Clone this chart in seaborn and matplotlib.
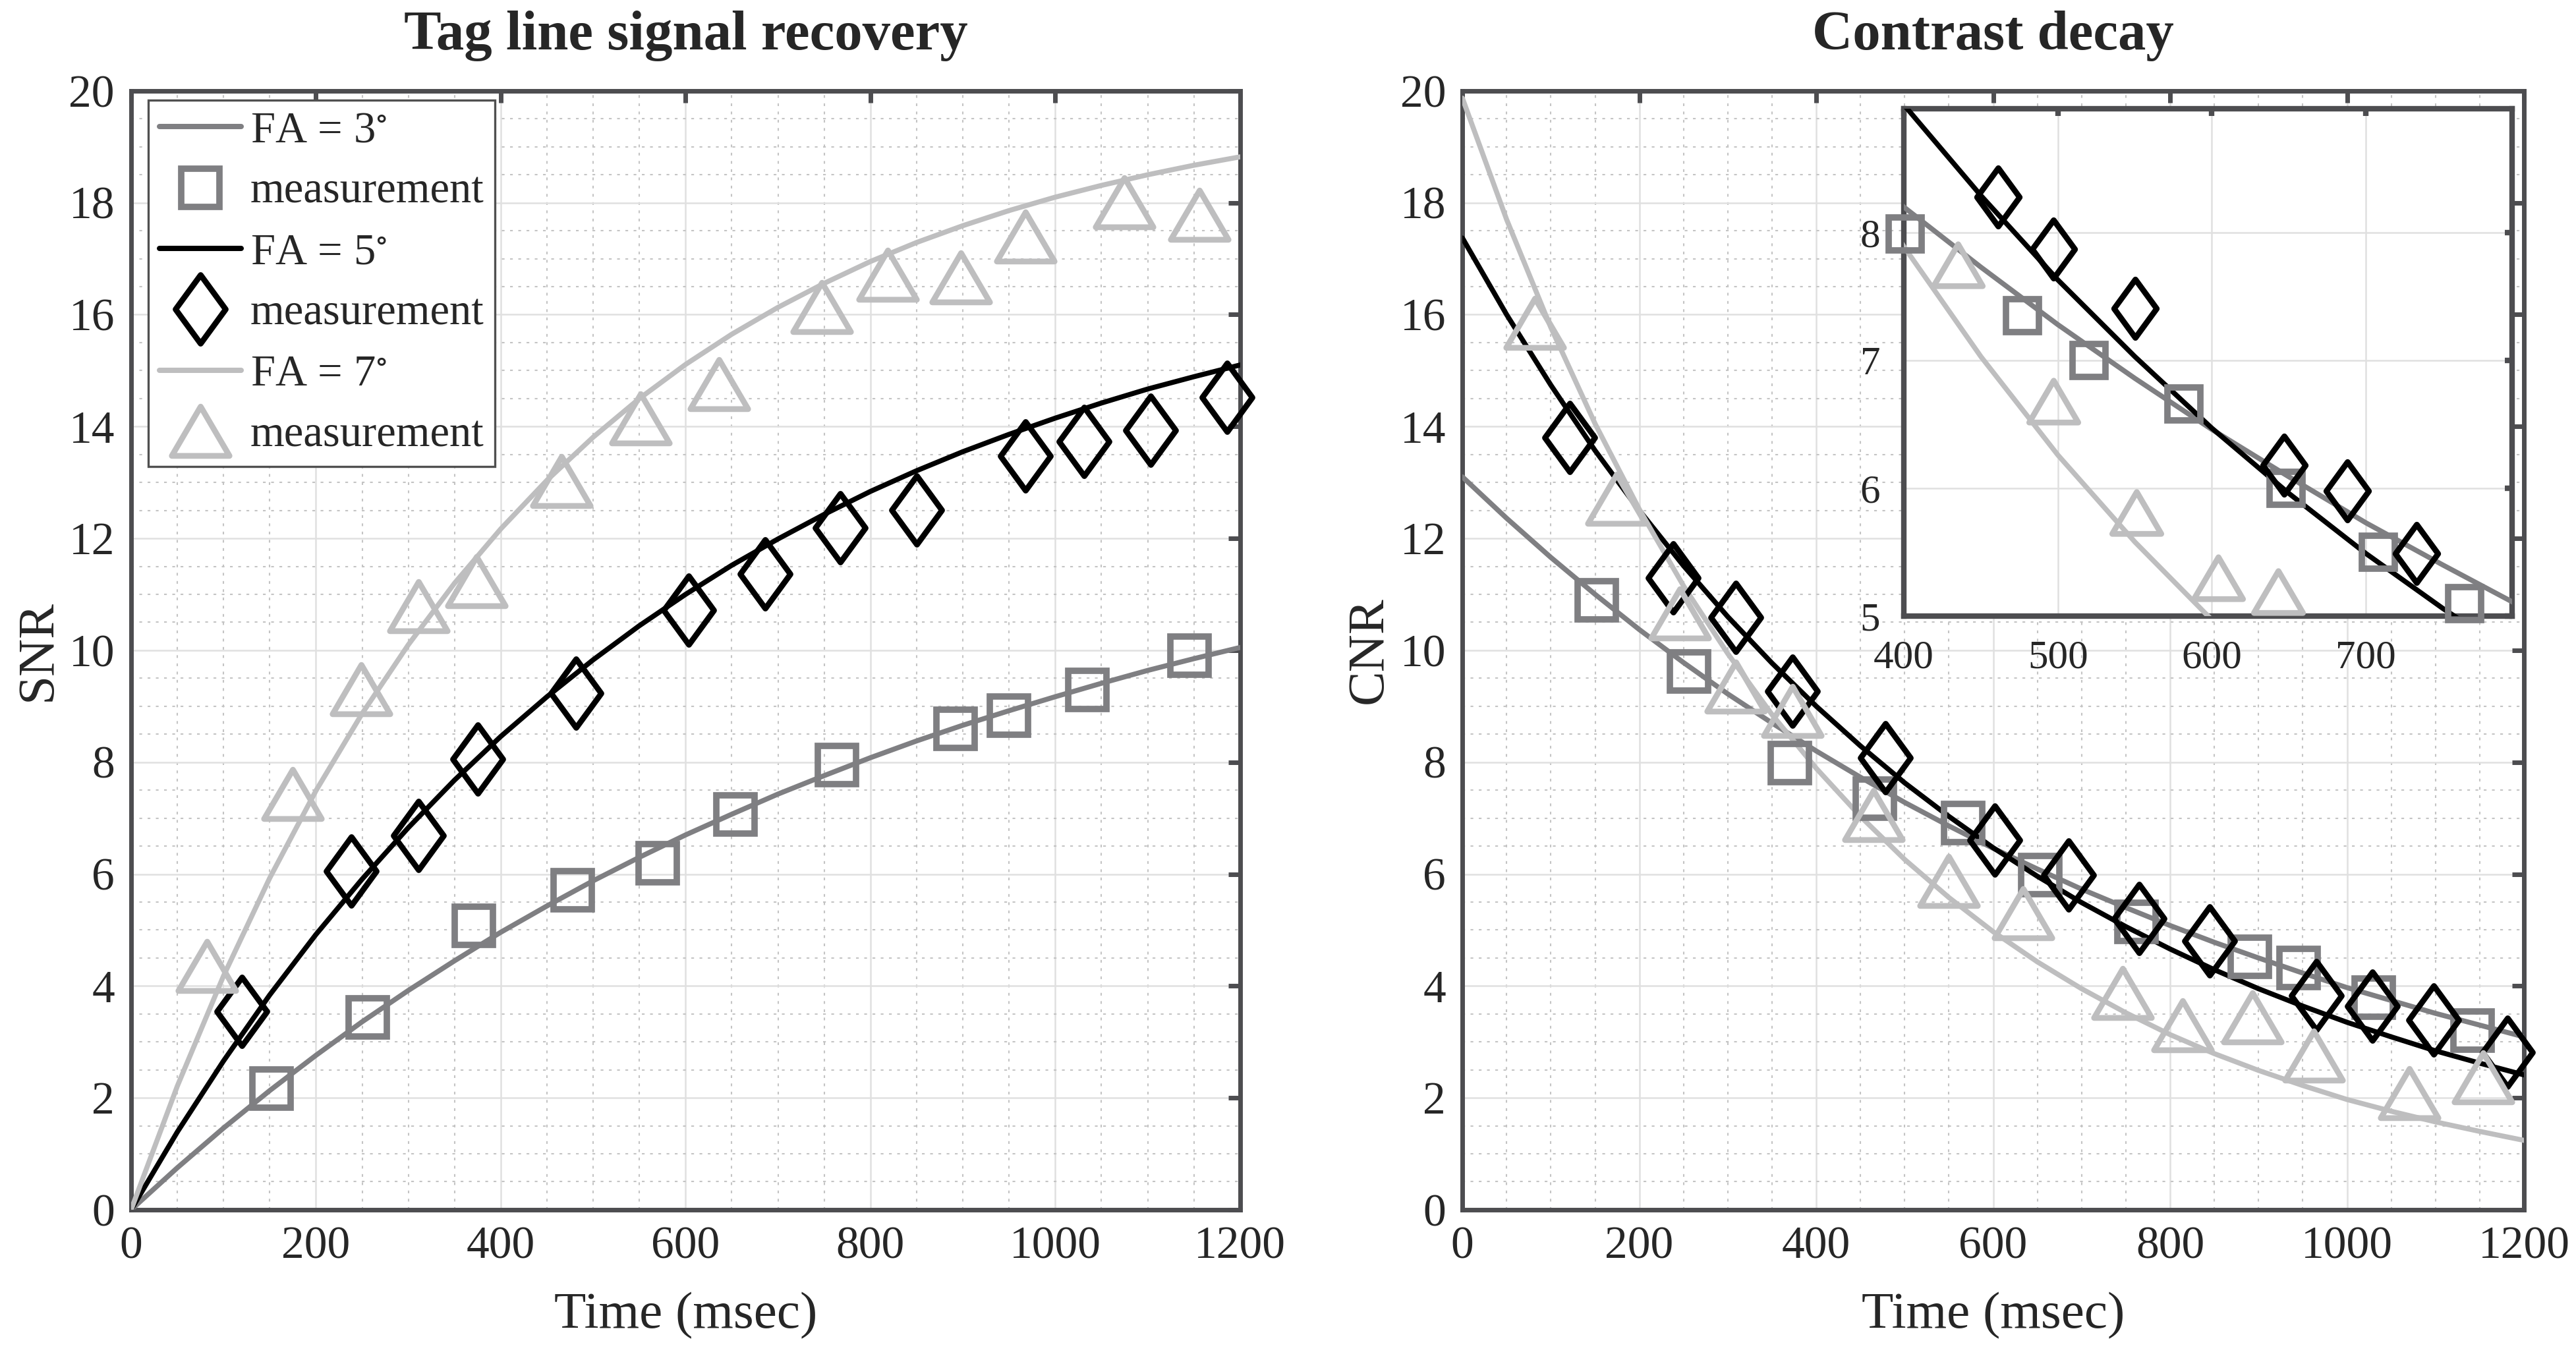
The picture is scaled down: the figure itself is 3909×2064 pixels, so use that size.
import matplotlib
matplotlib.use("Agg")
import matplotlib.pyplot as plt
import seaborn as sns
from matplotlib.lines import Line2D
from matplotlib.path import Path
from matplotlib.ticker import MultipleLocator

# ---- fitted curves (every 50 ms) ----
t_fit = [0, 50, 100, 150, 200, 250, 300, 350, 400, 450, 500, 550, 600,
         650, 700, 750, 800, 850, 900, 950, 1000, 1050, 1100, 1150, 1200]

snr_fit_fa3 = [0, 0.75, 1.46, 2.13, 2.76, 3.36, 3.92, 4.45, 4.96, 5.43, 5.88, 6.30, 6.70,
               7.07, 7.43, 7.76, 8.08, 8.38, 8.66, 8.92, 9.17, 9.41, 9.64, 9.85, 10.05]
snr_fit_fa5 = [0, 1.39, 2.66, 3.84, 4.92, 5.91, 6.83, 7.68, 8.46, 9.17, 9.83, 10.44, 11.00,
               11.52, 11.99, 12.43, 12.84, 13.21, 13.55, 13.86, 14.15, 14.42, 14.67, 14.89, 15.10]
snr_fit_fa7 = [0, 2.21, 4.18, 5.93, 7.49, 8.87, 10.10, 11.20, 12.17, 13.04, 13.81, 14.50, 15.11,
               15.65, 16.13, 16.56, 16.95, 17.29, 17.59, 17.86, 18.10, 18.31, 18.50, 18.67, 18.82]

cnr_fit_fa3 = [13.10, 12.36, 11.66, 11.00, 10.37, 9.78, 9.22, 8.70, 8.20, 7.73, 7.28, 6.86, 6.46,
               6.09, 5.73, 5.40, 5.08, 4.78, 4.50, 4.23, 3.97, 3.74, 3.51, 3.30, 3.09]
cnr_fit_fa5 = [17.37, 16.00, 14.74, 13.57, 12.50, 11.51, 10.60, 9.77, 9.00, 8.29, 7.63, 7.03, 6.47,
               5.96, 5.49, 5.06, 4.66, 4.29, 3.95, 3.64, 3.35, 3.09, 2.84, 2.62, 2.41]
cnr_fit_fa7 = [19.87, 17.70, 15.77, 14.05, 12.52, 11.15, 9.94, 8.85, 7.89, 7.03, 6.26, 5.58, 4.97,
               4.43, 3.95, 3.52, 3.13, 2.79, 2.49, 2.22, 1.97, 1.76, 1.57, 1.40, 1.24]

# ---- measurements, SNR ----
snr_t_fa3 = [152, 256, 371, 478, 570, 654, 764, 892, 950, 1035, 1145]
snr_fa3 = [2.17, 3.44, 5.08, 5.71, 6.19, 7.07, 7.95, 8.60, 8.83, 9.29, 9.91]
snr_t_fa5 = [120, 238, 311, 375, 481, 603, 686, 767, 850, 968, 1031, 1103, 1186]
snr_fa5 = [3.55, 6.05, 6.69, 8.06, 9.23, 10.72, 11.36, 12.19, 12.51, 13.47, 13.73, 13.93, 14.52]
snr_t_fa7 = [82, 175, 249, 311, 374, 466, 551, 636, 747, 819, 898, 968, 1075, 1156]
snr_fa7 = [4.36, 7.43, 9.30, 10.79, 11.24, 13.03, 14.15, 14.76, 16.14, 16.71, 16.66, 17.39, 18.01, 17.79]

# ---- measurements, CNR ----
cnr_t_fa3 = [152, 256, 370, 466, 566, 653, 762, 890, 945, 1030, 1142]
cnr_fa3 = [10.89, 9.62, 7.98, 7.35, 6.91, 5.98, 5.15, 4.52, 4.32, 3.79, 3.20]
cnr_t_fa5 = [121, 238, 309, 373, 478, 602, 685, 765, 845, 965, 1029, 1098, 1181]
cnr_fa5 = [13.80, 11.30, 10.59, 9.27, 8.08, 6.61, 5.98, 5.20, 4.81, 3.83, 3.64, 3.39, 2.81]
cnr_t_fa7 = [82, 174, 246, 309, 373, 465, 550, 634, 746, 814, 893, 962, 1070, 1154]
cnr_fa7 = [15.85, 12.71, 10.66, 9.35, 8.91, 7.05, 5.88, 5.30, 3.88, 3.30, 3.44, 2.76, 2.08, 2.37]

# ---- measurements shown in the inset ----
ins_t_fa3 = [401, 477, 520, 582, 648, 708, 764]
ins_fa3 = [7.99, 7.35, 7.00, 6.66, 6.00, 5.50, 5.10]
ins_t_fa5 = [461, 497, 550, 647, 688, 733]
ins_fa5 = [8.28, 7.87, 7.41, 6.18, 5.98, 5.49]
ins_t_fa7 = [435, 497, 551, 604, 643]
ins_fa7 = [7.75, 6.68, 5.81, 5.30, 5.19]

legend_labels = ["FA = 3$^{\\circ}$", "measurement", "FA = 5$^{\\circ}$", "measurement",
                 "FA = 7$^{\\circ}$", "measurement"]

# ---- style ----
sns.set_style("white")
plt.rcParams["font.family"] = ["Liberation Serif", "DejaVu Serif"]
plt.rcParams["mathtext.fontset"] = "stix"

C3, C5, C7 = "#7f7f82", "#000000", "#bebebf"
SPINE = "#4d4d50"

def closed(verts):
    return Path(verts + [(0, 0)], [Path.MOVETO] + [Path.LINETO] * (len(verts) - 1) + [Path.CLOSEPOLY])

DIAMOND = closed([(0, 0.5), (0.365, 0), (0, -0.5), (-0.365, 0)])
TRIANGLE = closed([(0, 0.427), (0.5, -0.427), (-0.5, -0.427)])

MARK = {"fa3": ("s", 42, 7.0), "fa5": (DIAMOND, 75, 6.3), "fa7": (TRIANGLE, 63, 6.3)}
LW = 5.5


def draw_curve(ax, y, color):
    sns.lineplot(x=t_fit, y=y, ax=ax, color=color, linewidth=LW, legend=False,
                 errorbar=None, sort=False, zorder=3)


def draw_points(ax, x, y, color, key, scale=1.0):
    m, ms, mew = MARK[key]
    sns.lineplot(x=x, y=y, ax=ax, color=color, linestyle="", marker=m,
                 markersize=ms * scale, markerfacecolor="none", markeredgecolor=color,
                 markeredgewidth=mew, legend=False, errorbar=None, sort=False,
                 clip_on=False, zorder=4)


def style_main(ax):
    ax.set_xlim(0, 1200)
    ax.set_ylim(0, 20)
    ax.xaxis.set_major_locator(MultipleLocator(200))
    ax.yaxis.set_major_locator(MultipleLocator(2))
    ax.xaxis.set_minor_locator(MultipleLocator(50))
    ax.yaxis.set_minor_locator(MultipleLocator(0.5))
    ax.set_axisbelow(True)
    ax.grid(which="major", color="#e0e0e0", linewidth=1.8)
    ax.grid(which="minor", color="#c4c4c4", linewidth=1.5, linestyle=(0, (2, 4)))
    ax.tick_params(which="major", direction="in", length=13, width=5, color=SPINE,
                   top=True, right=True, labelsize=50, pad=18)
    ax.tick_params(which="minor", length=0)
    for s in ax.spines.values():
        s.set_visible(True)
        s.set_color(SPINE)
        s.set_linewidth(5)
    ax.set_xlabel("Time (msec)", fontsize=57, labelpad=26)


fig = plt.figure(figsize=(39.09, 20.64), dpi=100)
ax1 = fig.add_axes([0.0509, 0.1105, 0.4305, 0.8227])
ax2 = fig.add_axes([0.5677, 0.1105, 0.4121, 0.8227])

# left panel: SNR
for ys, c in [(snr_fit_fa3, C3), (snr_fit_fa5, C5), (snr_fit_fa7, C7)]:
    draw_curve(ax1, ys, c)
draw_points(ax1, snr_t_fa3, snr_fa3, C3, "fa3")
draw_points(ax1, snr_t_fa5, snr_fa5, C5, "fa5")
draw_points(ax1, snr_t_fa7, snr_fa7, C7, "fa7")
style_main(ax1)
ax1.set_ylabel("SNR", fontsize=57, labelpad=8)
ax1.set_title("Tag line signal recovery", fontsize=61, fontweight="bold", pad=45)

handles = []
for c, key in [(C3, "fa3"), (C5, "fa5"), (C7, "fa7")]:
    m, ms, mew = MARK[key]
    handles.append(Line2D([], [], color=c, linewidth=LW + 0.3))
    handles.append(Line2D([], [], linestyle="none", marker=m, markersize=ms,
                          markerfacecolor="none", markeredgecolor=c, markeredgewidth=mew))
leg = ax1.legend(handles, legend_labels, loc="upper left", bbox_to_anchor=(0.0154, 0.9917),
                 borderaxespad=0, fontsize=48, frameon=True, fancybox=False, framealpha=1,
                 edgecolor="#505050", handlelength=1.87, handletextpad=0.2, labelspacing=0.47,
                 borderpad=0.25, numpoints=1)
leg.get_frame().set_linewidth(2.4)
leg.set_zorder(10)

# right panel: CNR
for ys, c in [(cnr_fit_fa3, C3), (cnr_fit_fa5, C5), (cnr_fit_fa7, C7)]:
    draw_curve(ax2, ys, c)
draw_points(ax2, cnr_t_fa3, cnr_fa3, C3, "fa3")
draw_points(ax2, cnr_t_fa5, cnr_fa5, C5, "fa5")
draw_points(ax2, cnr_t_fa7, cnr_fa7, C7, "fa7")
style_main(ax2)
ax2.set_ylabel("CNR", fontsize=57, labelpad=8)
ax2.set_title("Contrast decay", fontsize=61, fontweight="bold", pad=45)

# inset
axi = fig.add_axes([0.7391, 0.5470, 0.2361, 0.3731])
axi.set_facecolor("white")
for ys, c in [(cnr_fit_fa3, C3), (cnr_fit_fa5, C5), (cnr_fit_fa7, C7)]:
    draw_curve(axi, ys, c)
draw_points(axi, ins_t_fa3, ins_fa3, C3, "fa3", 0.85)
draw_points(axi, ins_t_fa5, ins_fa5, C5, "fa5", 0.85)
draw_points(axi, ins_t_fa7, ins_fa7, C7, "fa7", 0.85)
axi.set_xlim(400, 795)
axi.set_ylim(5, 8.97)
axi.set_xticks([400, 500, 600, 700])
axi.set_yticks([5, 6, 7, 8])
axi.set_axisbelow(True)
axi.grid(which="major", color="#e0e0e0", linewidth=1.8)
axi.tick_params(direction="in", length=8, width=6, color=SPINE, top=True, right=True,
                labelsize=44, pad=26)
for s in axi.spines.values():
    s.set_visible(True)
    s.set_color(SPINE)
    s.set_linewidth(6)
axi.set_xlabel("")
axi.set_ylabel("")

fig.savefig("out.png", dpi=100)
